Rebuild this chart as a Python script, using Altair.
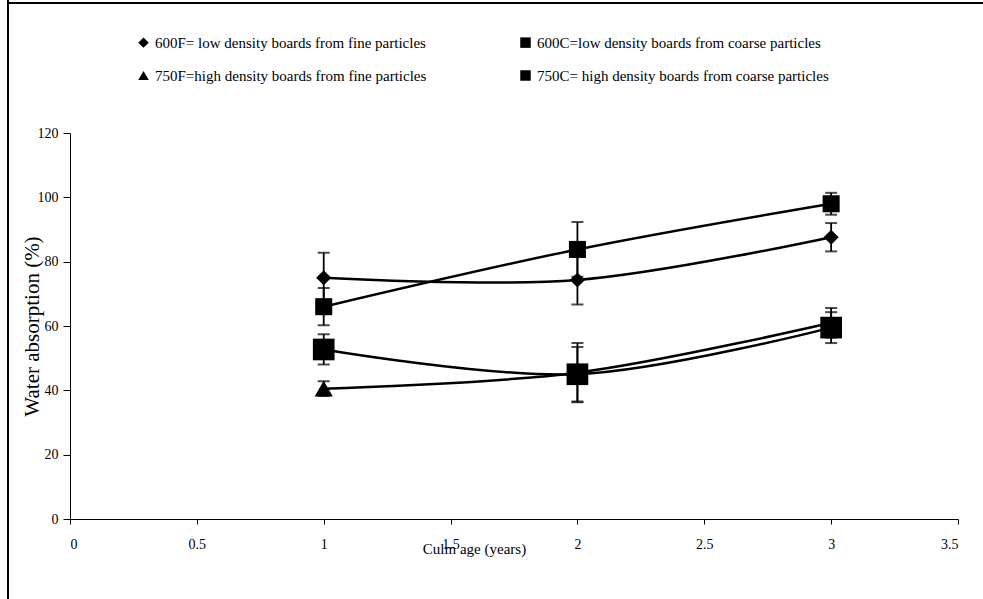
import altair as alt
import pandas as pd

ages = [1, 2, 3]
series_names = [
    "600F= low density boards from fine particles",
    "750F=high density boards from fine particles",
    "600C=low density boards from coarse particles",
    "750C= high density boards from coarse particles",
]
wa_600F = [75.0, 74.3, 87.6]
err_600F = [7.8, 7.6, 4.4]
wa_600C = [66.0, 83.8, 98.0]
err_600C = [5.8, 8.5, 3.4]
wa_750F = [40.5, 45.5, 61.0]
err_750F = [2.3, 9.2, 4.6]
wa_750C = [52.7, 45.0, 59.5]
err_750C = [4.7, 8.5, 4.8]

shapes = ["diamond", "triangle-up", "square", "square"]
marker_sizes = [230, 330, 290, 470]

rows = []
for name, vals, errs, shp, sz in zip(series_names,
                                    [wa_600F, wa_750F, wa_600C, wa_750C],
                                    [err_600F, err_750F, err_600C, err_750C],
                                    shapes, marker_sizes):
    for a, v, e in zip(ages, vals, errs):
        rows.append({"series": name, "age": a, "wa": v,
                     "lo": v - e, "hi": v + e, "msize": sz})
df = pd.DataFrame(rows)

FONT = "Liberation Serif"

xscale = alt.Scale(domain=[0, 3.5], nice=False, zero=False)
yscale = alt.Scale(domain=[0, 120], nice=False)

xaxis = alt.Axis(values=[0, 0.5, 1, 1.5, 2, 2.5, 3, 3.5], format="~g",
                 grid=False, tickSize=5, labelPadding=13, domainColor="black",
                 tickColor="black", labelColor="black", labelFontSize=14,
                 labelFont=FONT, titleFont=FONT, titleFontSize=15,
                 titleFontWeight="normal", titleColor="black",
                 titleX=404, titleY=22)
yaxis = alt.Axis(values=[0, 20, 40, 60, 80, 100, 120], grid=False,
                 tickSize=7, labelPadding=5, domainColor="black",
                 tickColor="black", labelColor="black", labelFontSize=14,
                 labelFont=FONT, titleFont=FONT, titleFontSize=21,
                 titleFontWeight="normal", titleColor="black",
                 titleX=-28)

base = alt.Chart(df)

lines = base.mark_line(color="black", strokeWidth=2.5,
                       interpolate="catmull-rom").encode(
    x=alt.X("age:Q", scale=xscale, axis=xaxis, title="Culm age (years)"),
    y=alt.Y("wa:Q", scale=yscale, axis=yaxis, title="Water absorption (%)"),
    detail="series:N",
)

errbars = base.mark_rule(color="black", strokeWidth=1.8).encode(
    x="age:Q", y="lo:Q", y2="hi:Q")
caps_hi = base.mark_tick(color="black", thickness=2, size=12,
                         orient="horizontal").encode(x="age:Q", y="hi:Q")
caps_lo = base.mark_tick(color="black", thickness=2, size=12,
                         orient="horizontal").encode(x="age:Q", y="lo:Q")

points = base.mark_point(filled=True, opacity=1, color="black").encode(
    x="age:Q",
    y="wa:Q",
    shape=alt.Shape("series:N",
                    scale=alt.Scale(domain=series_names, range=shapes),
                    legend=alt.Legend(title=None, orient="none", legendX=66,
                                      legendY=-98, columns=2,
                                      columnPadding=90, rowPadding=16,
                                      symbolFillColor="black",
                                      symbolStrokeColor="black",
                                      symbolSize=110, labelFont=FONT,
                                      labelFontSize=15, labelColor="black",
                                      labelLimit=500, labelOffset=4,
                                      symbolOffset=0)),
    size=alt.Size("msize:Q", scale=None, legend=None),
)

frame_left = base.mark_rule(color="black", strokeWidth=1.5).encode(
    x=alt.value(-62), y=alt.value(-133), y2=alt.value(466))
frame_top = base.mark_rule(color="black", strokeWidth=1.5).encode(
    x=alt.value(-62), x2=alt.value(913), y=alt.value(-130))

chart = alt.layer(lines, errbars, caps_hi, caps_lo, points,
                  frame_left, frame_top).properties(
    width=888, height=386,
    autosize=alt.AutoSizeParams(type="none"),
    padding={"left": 70, "top": 133, "right": 25, "bottom": 80},
    background="white",
).configure_view(stroke=None).configure_axis(
    labelFont=FONT, titleFont=FONT
).configure_legend(labelFont=FONT)

chart.save("out.html", embed_options={"renderer": "svg", "actions": False})
